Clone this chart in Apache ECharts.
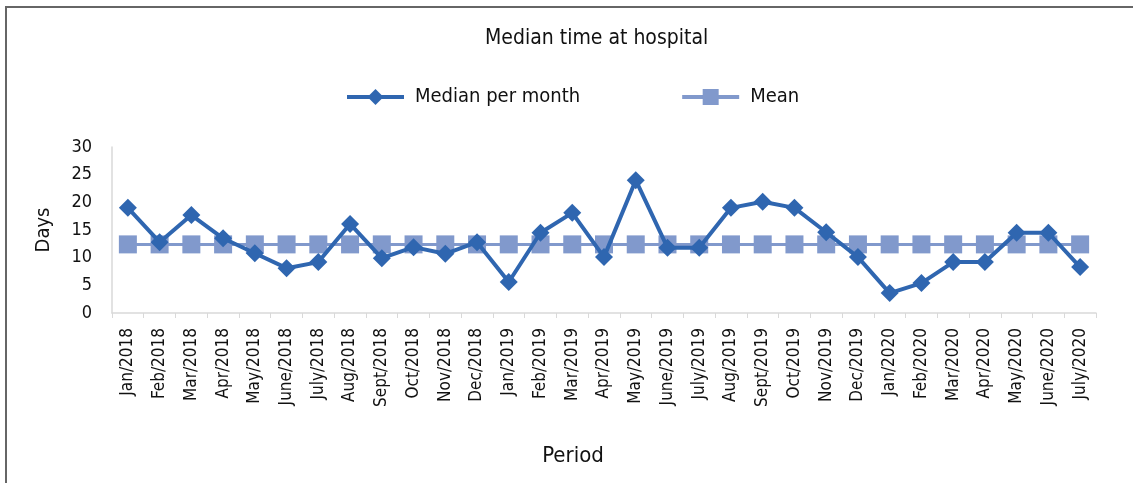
<!DOCTYPE html>
<html>
<head>
<meta charset="utf-8">
<script src="https://cdn.jsdelivr.net/npm/echarts@6/dist/echarts.min.js"></script>
<style>
  html, body { margin: 0; padding: 0; background: #fff; }
  #chart { width: 1133px; height: 483px; }
</style>
</head>
<body>
<div id="chart"></div>
<script>
// 数据
const periods = [
  'Jan/2018', 'Feb/2018', 'Mar/2018', 'Apr/2018', 'May/2018', 'June/2018', 'July/2018',
  'Aug/2018', 'Sept/2018', 'Oct/2018', 'Nov/2018', 'Dec/2018',
  'Jan/2019', 'Feb/2019', 'Mar/2019', 'Apr/2019', 'May/2019', 'June/2019', 'July/2019',
  'Aug/2019', 'Sept/2019', 'Oct/2019', 'Nov/2019', 'Dec/2019',
  'Jan/2020', 'Feb/2020', 'Mar/2020', 'Apr/2020', 'May/2020', 'June/2020', 'July/2020'
]
const medianPerMonth = [
  19, 12.8, 17.7, 13.5, 10.8, 8.1, 9.2, 16.1, 9.9, 11.9, 10.7, 12.8,
  5.6, 14.5, 18.1, 10.1, 24, 11.8, 11.8, 19, 20.1, 19, 14.6, 10.1,
  3.6, 5.4, 9.2, 9.2, 14.5, 14.5, 8.3
]
const meanValue = 12.4
const meanLine = periods.map(() => meanValue)
const yTicks = [0, 5, 10, 15, 20, 25, 30]

const FONT = "'DejaVu Sans Condensed', 'Liberation Sans Narrow', 'Liberation Sans', sans-serif"
const chart = echarts.init(document.getElementById('chart'))

chart.setOption({
  animation: false,
  textStyle: { fontFamily: FONT, color: '#111' },
  graphic: [
    {
      type: 'rect',
      shape: { x: 6, y: 7, width: 1300, height: 600 },
      style: { fill: 'none', stroke: '#666', lineWidth: 2 },
      silent: true
    }
  ],
  title: {
    text: 'Median time at hospital',
    left: 480,
    top: 23,
    textStyle: { fontFamily: FONT, fontSize: 21, fontWeight: 'normal', color: '#111' }
  },
  legend: {
    left: 340,
    top: 82,
    itemWidth: 57,
    itemHeight: 20,
    itemGap: 100,
    lineStyle: { width: 4 },
    textStyle: { fontFamily: FONT, fontSize: 20, color: '#111', padding: [0, 0, 0, 6] },
    data: ['Median per month', 'Mean']
  },
  grid: { left: 112, right: 37, top: 147, bottom: 170 },
  xAxis: {
    type: 'category',
    data: periods,
    boundaryGap: true,
    name: 'Period',
    nameLocation: 'middle',
    nameGap: 132,
    nameTextStyle: { fontFamily: FONT, fontSize: 22, color: '#111', padding: [0, 62, 0, 0] },
    axisLine: { lineStyle: { color: '#d9d9d9', width: 1.5 } },
    axisTick: { show: true, alignWithLabel: false, length: 5, lineStyle: { color: '#d9d9d9' } },
    axisLabel: { rotate: 90, interval: 0, fontSize: 17, color: '#111', margin: 15 },
    splitLine: { show: false }
  },
  yAxis: {
    type: 'value',
    min: yTicks[0],
    max: yTicks[yTicks.length - 1],
    interval: 5,
    name: 'Days',
    nameLocation: 'middle',
    nameGap: 58,
    nameTextStyle: { fontFamily: FONT, fontSize: 20, color: '#111' },
    axisLine: { show: true, lineStyle: { color: '#d9d9d9', width: 1.5 } },
    axisTick: { show: false },
    axisLabel: { fontSize: 18, color: '#111', margin: 20 },
    splitLine: { show: false }
  },
  series: [
    {
      name: 'Mean',
      type: 'line',
      data: meanLine,
      symbol: 'rect',
      symbolSize: 18,
      z: 2,
      lineStyle: { color: '#8199cc', width: 3 },
      itemStyle: { color: '#8199cc' }
    },
    {
      name: 'Median per month',
      type: 'line',
      data: medianPerMonth,
      symbol: 'diamond',
      symbolSize: 18,
      z: 3,
      lineStyle: { color: '#2f66b0', width: 4 },
      itemStyle: { color: '#2f66b0' }
    }
  ]
})
</script>
</body>
</html>
